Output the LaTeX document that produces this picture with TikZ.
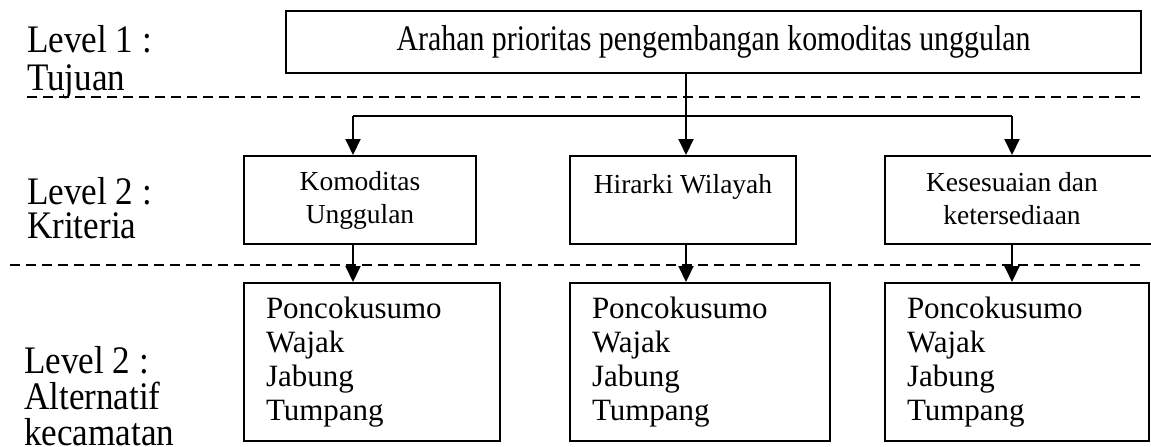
\documentclass[tikz,border=0pt]{standalone}
\usepackage{fontspec}
\setmainfont{Liberation Serif}
\newfontfamily\lblfont{Liberation Serif}[FakeStretch=0.9]
\newfontfamily\goalfont{Liberation Serif}[FakeStretch=0.83]
\usetikzlibrary{arrows.meta}
\begin{document}
\begin{tikzpicture}[x=1pt,y=-1pt,
  box/.style={draw,line width=2pt,inner sep=0pt,anchor=north west},
  lbl/.style={anchor=base west,inner sep=0pt,font=\lblfont\fontsize{39}{40}\selectfont},
  mid/.style={font=\fontsize{27.5}{33}\selectfont,align=center},
  alt/.style={font=\fontsize{31}{34}\selectfont,align=left,inner xsep=22pt,minimum height=158pt},
  arr/.style={line width=2pt,-{Triangle[length=16pt,width=15pt]}},
  dsh/.style={line width=2pt,dash pattern=on 10pt off 6pt}]
\useasboundingbox (0,0) rectangle (1151,447);
% left labels
\node[lbl] (l1a) at (27,52) {Level 1 :};
\node[lbl] (l1b) at (27,90) {Tujuan};
\node[lbl] (l2a) at (27,204) {Level 2 :};
\node[lbl] (l2b) at (27,238) {Kriteria};
\node[lbl] (l3a) at (24,373) {Level 2 :};
\node[lbl] (l3b) at (24,409) {Alternatif};
\node[lbl] (l3c) at (24,445) {kecamatan};
% separators
\draw[dsh] (27,97) -- (1140,97);
\draw[dsh] (10,265) -- (1140,265);
% goal
\node[box,minimum width=855pt,minimum height=62pt,font=\goalfont\fontsize{36}{38}\selectfont] (goal) at (285,10) {Arahan prioritas pengembangan komoditas unggulan};
% criteria
\node[box,mid,minimum width=232pt,minimum height=88pt] (ka) at (243,155) {Komoditas\\Unggulan};
\node[box,mid,minimum width=226pt,minimum height=88pt] (kb) at (569,155) {Hirarki Wilayah\\~};
\node[box,minimum width=280pt,minimum height=88pt] (kc) at (884,155) {};
\node[mid,inner sep=0pt] (kct) at (1012,199) {Kesesuaian dan\\ketersediaan};
% alternatives
\node[box,alt,text width=212pt] (aa) at (243,282) {Poncokusumo\\Wajak\\Jabung\\Tumpang};
\node[box,alt,text width=216pt] (ab) at (569,282) {Poncokusumo\\Wajak\\Jabung\\Tumpang};
\node[box,alt,text width=220pt] (ac) at (884,282) {Poncokusumo\\Wajak\\Jabung\\Tumpang};
% connectors
\coordinate (ja) at (353,116);
\coordinate (jb) at (686,116);
\coordinate (jc) at (1012,116);
\draw[line width=2pt] (ja) -- (jc);
\draw[arr] (goal.south -| jb) -- (kb.north -| jb);
\draw[arr] (ja) -- (ka.north -| ja);
\draw[arr] (jc) -- (kc.north -| jc);
\draw[arr] (ka.south -| ja) -- (aa.north -| ja);
\draw[arr] (kb.south -| jb) -- (ab.north -| jb);
\draw[arr] (kc.south -| jc) -- (ac.north -| jc);
\end{tikzpicture}
\end{document}
